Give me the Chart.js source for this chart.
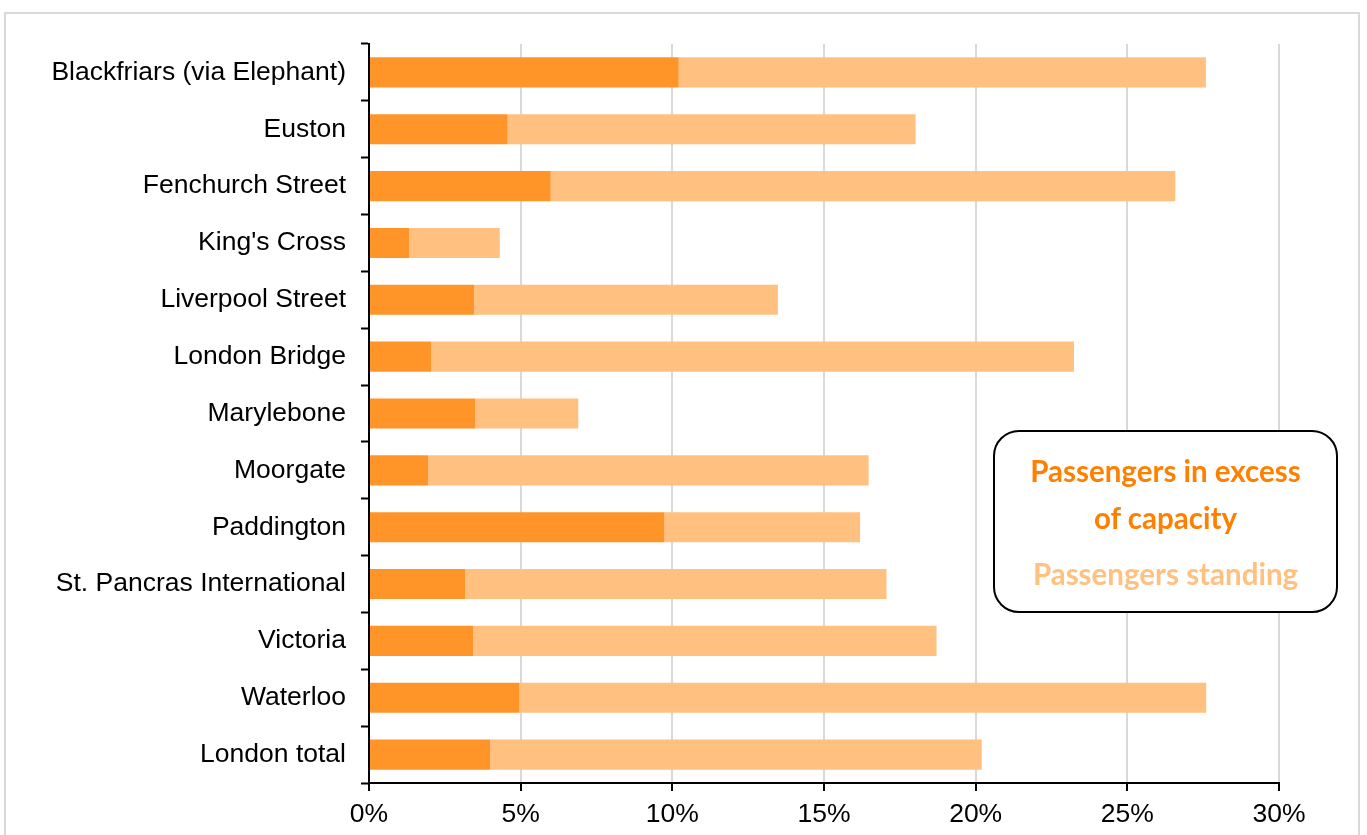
<!DOCTYPE html>
<html>
<head>
<meta charset="utf-8">
<script src="https://cdn.jsdelivr.net/npm/chart.js@4/dist/chart.umd.min.js"></script>
<style>
    html, body { margin: 0; padding: 0; background: #fff; overflow: hidden; }
    #wrap { position: relative; width: 1367px; height: 835px; }
    #frame {
        position: absolute; left: 4px; top: 12px; width: 1356px; height: 900px;
        border: 2px solid #d9d9d9; box-sizing: border-box;
    }
    #chart-box { position: absolute; left: 0; top: 0; width: 1367px; height: 835px; }
    #key {
        position: absolute; left: 993px; top: 430px; width: 345px; height: 183px;
        border: 2.5px solid #000; border-radius: 26px; box-sizing: border-box; background: #fff;
        font-family: Lato, "Open Sans", sans-serif; font-weight: bold; font-size: 29.5px;
        text-align: center;
    }
    #key .excess { color: #ff8000; position: absolute; left: 0; right: 0; top: 15px; line-height: 47px; }
    #key .standing { color: #ffc080; position: absolute; left: 0; right: 0; top: 122px; line-height: 40px; }
</style>
</head>
<body>
<div id="wrap">
    <div id="frame"></div>
    <div id="chart-box"><canvas id="crowding-chart" width="1367" height="835"></canvas></div>
    <div id="key">
        <div class="excess">Passengers in excess<br>of capacity</div>
        <div class="standing">Passengers standing</div>
    </div>
</div>
<script>
const stations = [
    `Blackfriars (via Elephant)`, `Euston`, `Fenchurch Street`, `King's Cross`,
    `Liverpool Street`, `London Bridge`, `Marylebone`, `Moorgate`, `Paddington`,
    `St. Pancras International`, `Victoria`, `Waterloo`, `London total`
]
// share of passengers above capacity, %
const excess = [10.21, 4.57, 5.99, 1.33, 3.47, 2.05, 3.50, 1.95, 9.74, 3.17, 3.44, 4.96, 3.99]
// remaining share of passengers standing, %
const standing = [17.38, 13.45, 20.59, 2.98, 10.01, 21.19, 3.40, 14.52, 6.45, 13.89, 15.27, 22.64, 16.21]
const x_ticks = [0, 5, 10, 15, 20, 25, 30]

const axis_font = { family: `"Liberation Sans", Arial, sans-serif`, size: 26.5 }

const chart_ctx = document.getElementById(`crowding-chart`).getContext('2d')
const chart = new Chart(chart_ctx, {
    type: `bar`,
    data: {
        labels: stations,
        datasets: [{
            label: `Passengers in excess of capacity`,
            data: excess,
            backgroundColor: `#ff9429`,
            borderWidth: 0
        }, {
            label: `Passengers standing`,
            data: standing,
            backgroundColor: `#ffc080`,
            borderWidth: 0
        }]
    },
    options: {
        indexAxis: `y`,
        responsive: false,
        animation: false,
        layout: { padding: { top: 44, right: 88, left: 0, bottom: 0 } },
        categoryPercentage: 1,
        barPercentage: 0.53,
        plugins: {
            legend: { display: false },
            tooltip: { enabled: false }
        },
        scales: {
            x: {
                stacked: true,
                min: 0,
                max: 30,
                afterBuildTicks: (scale) => { scale.ticks = x_ticks.map(v => ({ value: v })) },
                afterFit: (scale) => { scale.height = 52 },
                grid: {
                    color: `#d9d9d9`,
                    lineWidth: 2,
                    tickColor: `#000`,
                    tickLength: 8,
                    tickWidth: 2
                },
                border: { color: `#000`, width: 2 },
                ticks: {
                    color: `#000`,
                    font: axis_font,
                    padding: 8,
                    maxRotation: 0,
                    callback: (v) => `${v}%`
                }
            },
            y: {
                stacked: true,
                afterFit: (scale) => { scale.width = 369 },
                grid: {
                    offset: true,
                    drawOnChartArea: false,
                    tickColor: `#000`,
                    tickLength: 8,
                    tickWidth: 2
                },
                border: { color: `#000`, width: 2 },
                ticks: {
                    color: `#000`,
                    font: axis_font,
                    padding: 15,
                    autoSkip: false
                }
            }
        }
    }
})
</script>
</body>
</html>
